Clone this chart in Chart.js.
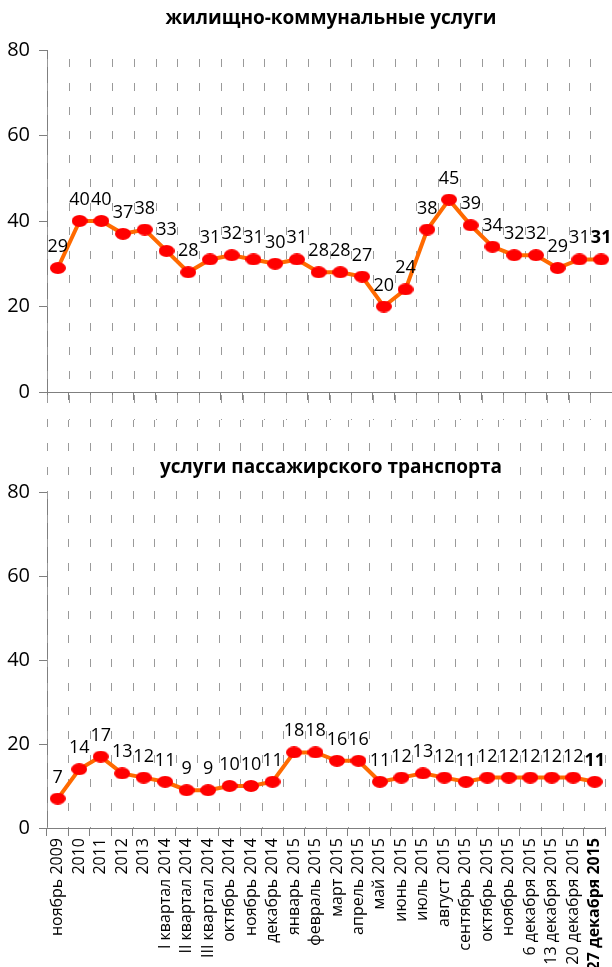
<!DOCTYPE html>
<html lang="ru">
<head>
<meta charset="utf-8">
<script src="https://cdn.jsdelivr.net/npm/chart.js@4.4.0/dist/chart.umd.min.js"></script>
<style>
  html, body { margin: 0; padding: 0; background: #fff; overflow: hidden; }
  .panel { position: absolute; left: 0; }
  #housing { top: 0; }
  #transport { top: 420px; }
</style>
</head>
<body>
<canvas id="housing" class="panel" width="616" height="420"></canvas>
<canvas id="transport" class="panel" width="616" height="547"></canvas>
<script>
const periods = [
  'ноябрь 2009', '2010', '2011', '2012', '2013',
  'I квартал 2014', 'II квартал 2014', 'III квартал 2014',
  'октябрь 2014', 'ноябрь 2014', 'декабрь 2014',
  'январь 2015', 'февраль 2015', 'март 2015', 'апрель 2015',
  'май 2015', 'июнь 2015', 'июль 2015', 'август 2015',
  'сентябрь 2015', 'октябрь 2015', 'ноябрь 2015',
  '6 декабря 2015', '13 декабря 2015', '20 декабря 2015', '27 декабря 2015'
];
const housingValues = [29, 40, 40, 37, 38, 33, 28, 31, 32, 31, 30, 31, 28, 28, 27, 20, 24, 38, 45, 39, 34, 32, 32, 29, 31, 31];
const transportValues = [7, 14, 17, 13, 12, 11, 9, 9, 10, 10, 11, 18, 18, 16, 16, 11, 12, 13, 12, 11, 12, 12, 12, 12, 12, 11];
const yTickValues = [0, 20, 40, 60, 80];

const FONT = "'Open Sans', 'Noto Sans', sans-serif";
const AXIS_GRAY = '#7f7f7f';
const lastIndex = periods.length - 1;

// red oval marker
function ovalMarker() {
  const c = document.createElement('canvas');
  c.width = 16; c.height = 12;
  const g = c.getContext('2d');
  g.fillStyle = '#ff0000';
  g.beginPath();
  g.ellipse(8, 6, 8, 6, 0, 0, Math.PI * 2);
  g.fill();
  return c;
}
const marker = ovalMarker();

// dashed vertical separators between categories, running past the plot area
const dashedColumns = {
  id: 'dashedColumns',
  beforeDatasetsDraw(chart, args, opts) {
    const x = chart.scales.x;
    const ctx = chart.ctx;
    const bottom = opts.toArea ? chart.chartArea.bottom : chart.height;
    ctx.save();
    ctx.strokeStyle = '#9a9a9a';
    ctx.lineWidth = 1;
    ctx.setLineDash([8, 16]);
    ctx.lineDashOffset = opts.offset || 0;
    for (let i = 0; i <= periods.length; i++) {
      const px = Math.round(x.getPixelForValue(i - 0.5)) + 0.5;
      ctx.beginPath();
      ctx.moveTo(px, opts.top);
      ctx.lineTo(px, bottom);
      ctx.stroke();
    }
    ctx.restore();
  }
};

// value printed above every point, the latest one in bold
const pointValues = {
  id: 'pointValues',
  afterDatasetsDraw(chart) {
    const ctx = chart.ctx;
    const meta = chart.getDatasetMeta(0);
    const values = chart.data.datasets[0].data;
    ctx.save();
    ctx.fillStyle = '#000';
    ctx.textAlign = 'center';
    ctx.textBaseline = 'alphabetic';
    meta.data.forEach((pt, i) => {
      ctx.font = (i === lastIndex ? 'bold ' : '') + '18px ' + FONT;
      ctx.fillText(String(values[i]), pt.x, pt.y - 16);
    });
    ctx.restore();
  }
};

// panel heading on a white plate so the dashes do not run through it
const panelHeading = {
  id: 'panelHeading',
  afterDraw(chart, args, opts) {
    const ctx = chart.ctx;
    ctx.save();
    ctx.font = 'bold 19px ' + FONT;
    const w = ctx.measureText(opts.text).width;
    ctx.fillStyle = '#fff';
    ctx.fillRect(opts.x - w / 2 - 6, opts.y - 19, w + 12, 26);
    ctx.fillStyle = '#000';
    ctx.textAlign = 'center';
    ctx.textBaseline = 'alphabetic';
    ctx.fillText(opts.text, opts.x, opts.y);
    ctx.restore();
  }
};

function buildPanel(canvasId, values, cfg) {
  return new Chart(document.getElementById(canvasId), {
    type: 'line',
    data: {
      labels: periods,
      datasets: [{
        data: values,
        borderColor: '#ff6a00',
        borderWidth: 4,
        tension: 0,
        pointStyle: marker,
        pointBackgroundColor: '#ff0000',
        pointBorderWidth: 0
      }]
    },
    options: {
      responsive: false,
      animation: false,
      events: [],
      layout: { padding: { top: cfg.areaTop, right: 1, left: 0, bottom: 0 } },
      scales: {
        x: {
          type: 'category',
          offset: true,
          grid: { offset: true, drawOnChartArea: false, drawTicks: true, tickLength: 8, color: AXIS_GRAY },
          border: { color: AXIS_GRAY, width: 1 },
          ticks: {
            display: cfg.showLabels,
            autoSkip: false,
            minRotation: 90,
            maxRotation: 90,
            padding: 2,
            color: '#000',
            font: (c) => ({ family: FONT, size: 16, weight: c.index === lastIndex ? 'bold' : 'normal' })
          },
          afterFit(scale) { scale.height = cfg.axisHeight; }
        },
        y: {
          min: 0,
          max: 80,
          afterBuildTicks(scale) { scale.ticks = yTickValues.map(v => ({ value: v })); },
          grid: { drawOnChartArea: false, drawTicks: true, tickLength: 8, color: AXIS_GRAY },
          border: { color: AXIS_GRAY, width: 1 },
          ticks: { color: '#000', padding: 9, font: { family: FONT, size: 20 } },
          afterFit(scale) { scale.width = 47; }
        }
      },
      plugins: {
        legend: { display: false },
        tooltip: { enabled: false },
        dashedColumns: { top: cfg.dashTop, toArea: cfg.dashToArea, offset: cfg.dashOffset },
        panelHeading: { text: cfg.title, x: 331, y: cfg.titleY }
      }
    },
    plugins: [dashedColumns, pointValues, panelHeading]
  });
}

buildPanel('housing', housingValues, {
  title: 'жилищно-коммунальные услуги',
  titleY: 24,
  areaTop: 50,
  axisHeight: 28,
  showLabels: false,
  dashTop: 59,
  dashToArea: false,
  dashOffset: 0
});

buildPanel('transport', transportValues, {
  title: 'услуги пассажирского транспорта',
  titleY: 53,
  areaTop: 72,
  axisHeight: 139,
  showLabels: true,
  dashTop: 0,
  dashToArea: true,
  dashOffset: 1
});
</script>
</body>
</html>
